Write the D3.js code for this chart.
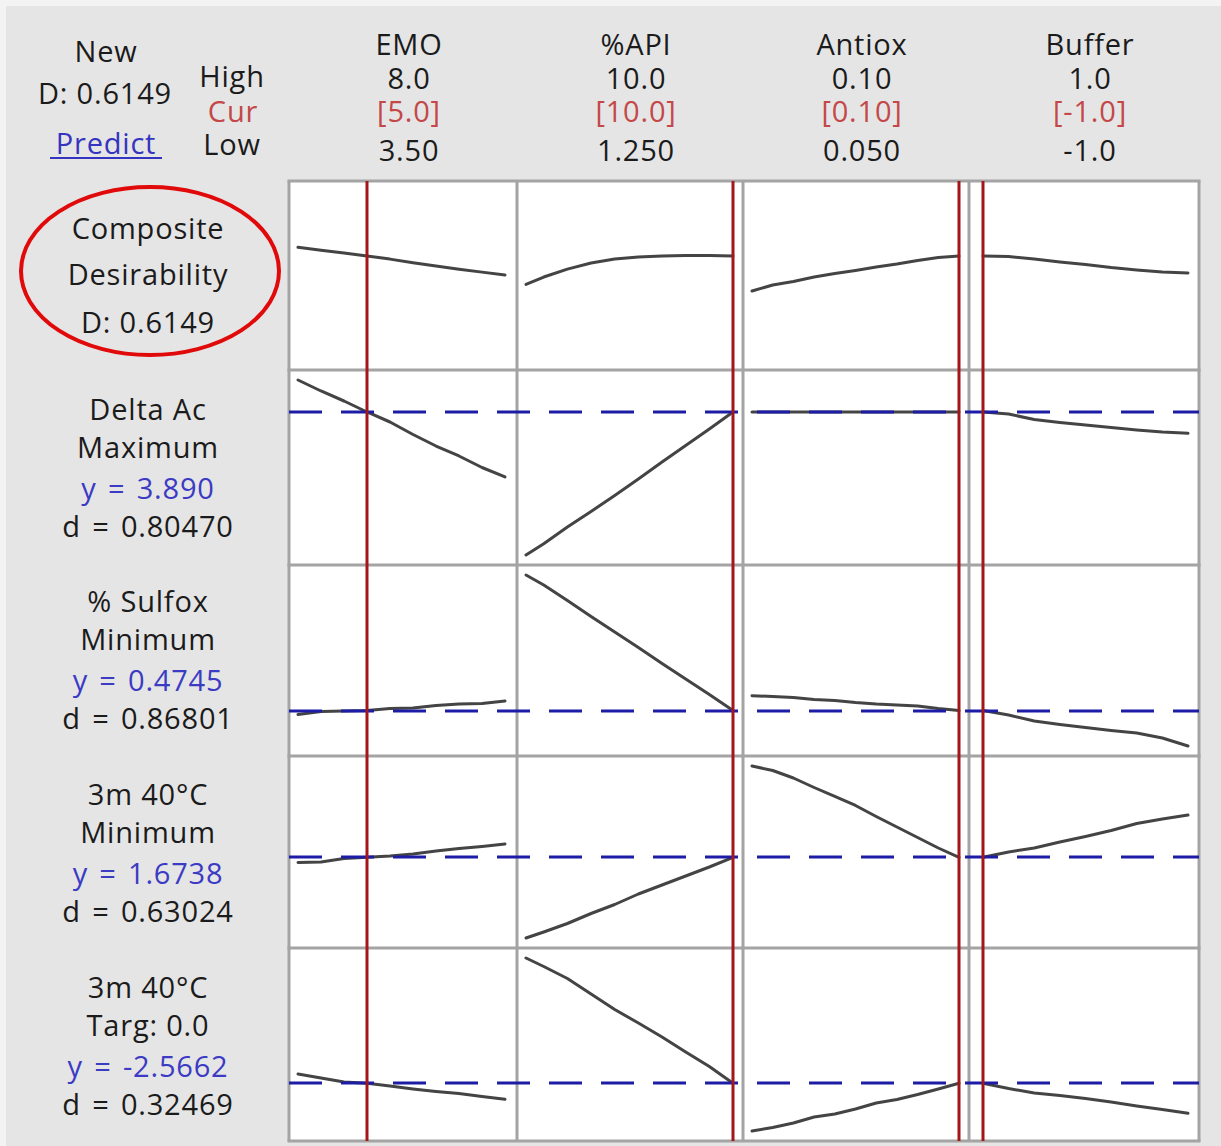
<!DOCTYPE html>
<html>
<head>
<meta charset="utf-8">
<script src="https://cdn.jsdelivr.net/npm/d3@7"></script>
<style>
  body { margin: 0; background: #f3f3f3; }
  svg { display: block; }
  text { font-family: "Open Sans", "Noto Sans", sans-serif; letter-spacing: 0.8px; }
</style>
</head>
<body>
<svg id="chart" width="1221" height="1146"></svg>
<script>
// ---- factors (columns) ----
const factorNames = ["EMO", "%API", "Antiox", "Buffer"];
const factorHighLabels = ["8.0", "10.0", "0.10", "1.0"];
const factorCurLabels = ["[5.0]", "[10.0]", "[0.10]", "[-1.0]"];
const factorLowLabels = ["3.50", "1.250", "0.050", "-1.0"];
const factorLow = [3.5, 1.25, 0.05, -1];
const factorHigh = [8.0, 10.0, 0.10, 1.0];
const factorCur = [5.0, 10.0, 0.10, -1.0];

// settings at which each response trace was evaluated
const emoGrid = [3.5, 4.0, 4.5, 5.0, 5.5, 6.0, 6.5, 7.0, 7.5, 8.0];
const apiGrid = [1.25, 2, 3, 4, 5, 6, 7, 8, 9, 10];
const antioxGrid = [0.05, 0.055, 0.06, 0.065, 0.07, 0.075, 0.08, 0.085, 0.09, 0.095, 0.10];
const bufferGrid = [-1, -0.75, -0.5, -0.25, 0, 0.25, 0.5, 0.75, 1];
const factorGrids = [emoGrid, apiGrid, antioxGrid, bufferGrid];

// ---- responses (rows) ----
const compositeD = 0.6149;
const compositeTraces = [
  [0.667, 0.650, 0.633, 0.6149, 0.597, 0.575, 0.556, 0.537, 0.520, 0.503],
  [0.447, 0.491, 0.538, 0.574, 0.598, 0.609, 0.615, 0.618, 0.618, 0.6149],
  [0.408, 0.444, 0.464, 0.491, 0.512, 0.530, 0.550, 0.568, 0.589, 0.607, 0.6149],
  [0.6149, 0.612, 0.598, 0.580, 0.565, 0.547, 0.533, 0.521, 0.515]
];
const deltaAcTraces = [
  [4.548, 4.322, 4.116, 3.890, 3.684, 3.427, 3.190, 2.985, 2.748, 2.553],
  [0.948, 1.180, 1.524, 1.843, 2.172, 2.511, 2.861, 3.201, 3.540, 3.890],
  [3.890, 3.890, 3.890, 3.890, 3.890, 3.890, 3.890, 3.890, 3.890, 3.890, 3.890],
  [3.890, 3.848, 3.735, 3.674, 3.622, 3.571, 3.519, 3.478, 3.451]
];
const sulfoxTraces = [
  [0.4548, 0.4696, 0.4720, 0.4745, 0.4843, 0.4868, 0.4991, 0.5065, 0.5089, 0.5212],
  [1.1406, 1.0914, 1.0152, 0.9366, 0.8604, 0.7842, 0.7055, 0.6293, 0.5532, 0.4745],
  [0.5473, 0.5433, 0.5384, 0.5286, 0.5237, 0.5138, 0.5065, 0.5015, 0.4966, 0.4843, 0.4745],
  [0.4745, 0.4524, 0.4229, 0.4057, 0.3909, 0.3762, 0.3639, 0.3393, 0.3000]
];
const m3MinTraces = [
  [1.6239, 1.6287, 1.6623, 1.6738, 1.6862, 1.7054, 1.7342, 1.7582, 1.7773, 1.8013],
  [0.9000, 0.9575, 1.0390, 1.1349, 1.2212, 1.3219, 1.4082, 1.4945, 1.5808, 1.6738],
  [2.5492, 2.5061, 2.4341, 2.3431, 2.2568, 2.1705, 2.0650, 1.9643, 1.8636, 1.7630, 1.6738],
  [1.6738, 1.7246, 1.7630, 1.8205, 1.8732, 1.9308, 1.9979, 2.0410, 2.0794]
];
const m3TargTraces = [
  [-2.4426, -2.4957, -2.5489, -2.5662, -2.6020, -2.6419, -2.6751, -2.7017, -2.7416, -2.7788],
  [-0.9011, -1.0141, -1.1736, -1.3795, -1.5855, -1.7649, -1.9509, -2.1502, -2.3429, -2.5662],
  [-3.2000, -3.1535, -3.0937, -3.0140, -2.9741, -2.9077, -2.8279, -2.7814, -2.7150, -2.6419, -2.5662],
  [-2.5662, -2.6353, -2.6951, -2.7283, -2.7681, -2.8146, -2.8678, -2.9143, -2.9648]
];
const rowTraces = [compositeTraces, deltaAcTraces, sulfoxTraces, m3MinTraces, m3TargTraces];

const responseNames = ["Delta Ac", "% Sulfox", "3m 40°C", "3m 40°C"];
const responseGoals = ["Maximum", "Minimum", "Minimum", "Targ: 0.0"];
const responseY = [3.890, 0.4745, 1.6738, -2.5662];
const responseYLabels = ["3.890", "0.4745", "1.6738", "-2.5662"];
const responseDLabels = ["0.80470", "0.86801", "0.63024", "0.32469"];

// ---- layout ----
const W = 1221, H = 1146;
const colEdges = [289, 517, 743, 969, 1199];
const rowEdges = [181, 370, 565, 756, 948, 1141];
const insetL = [9, 9, 9, 14], insetR = [12, 10, 10, 11];
const insetY = 10;
const FS = 29;

const svg = d3.select("#chart");
svg.append("rect").attr("x", 6).attr("y", 6).attr("width", W - 6).attr("height", H - 6)
  .attr("fill", "#e5e5e5");

const xScales = factorNames.map((_, c) => d3.scaleLinear()
  .domain([factorLow[c], factorHigh[c]])
  .range([colEdges[c] + insetL[c], colEdges[c + 1] - insetR[c]]));

const yScales = rowTraces.map((traces, r) => {
  const dom = r === 0 ? [0, 1] : d3.extent(traces.flat());
  return d3.scaleLinear().domain(dom).range([rowEdges[r + 1] - insetY, rowEdges[r] + insetY]);
});

// white plotting cells
svg.append("rect")
  .attr("x", colEdges[0]).attr("y", rowEdges[0])
  .attr("width", colEdges[4] - colEdges[0]).attr("height", rowEdges[5] - rowEdges[0])
  .attr("fill", "#ffffff");

// response traces
const plot = svg.append("g");
rowTraces.forEach((traces, r) => {
  traces.forEach((vals, c) => {
    const line = d3.line()
      .x((d, i) => xScales[c](factorGrids[c][i]))
      .y(d => yScales[r](d));
    plot.append("path")
      .attr("d", line(vals))
      .attr("fill", "none")
      .attr("stroke", "#444444")
      .attr("stroke-width", 3)
      .attr("stroke-linejoin", "round")
      .attr("stroke-linecap", "round");
  });
});

// grid
const grid = svg.append("g").attr("stroke", "#a4a4a4").attr("stroke-width", 3);
colEdges.forEach(x => grid.append("line")
  .attr("x1", x).attr("x2", x).attr("y1", rowEdges[0]).attr("y2", rowEdges[5]));
rowEdges.forEach(y => grid.append("line")
  .attr("x1", colEdges[0] - 1.5).attr("x2", colEdges[4] + 1.5).attr("y1", y).attr("y2", y));

// current response values (dashed)
responseY.forEach((v, i) => {
  const y = Math.round(yScales[i + 1](v));
  svg.append("line")
    .attr("x1", colEdges[0]).attr("x2", colEdges[4])
    .attr("y1", y).attr("y2", y)
    .attr("stroke", "#1c1ca6").attr("stroke-width", 3)
    .attr("stroke-dasharray", "33,19");
});

// current factor settings (red)
factorCur.forEach((v, c) => {
  const x = Math.round(xScales[c](v));
  svg.append("line")
    .attr("x1", x).attr("x2", x)
    .attr("y1", rowEdges[0]).attr("y2", rowEdges[5])
    .attr("stroke", "#a3161a").attr("stroke-width", 3);
});

// ---- text ----
function label(x, y, s, color, size) {
  return svg.append("text")
    .attr("x", x).attr("y", y)
    .attr("text-anchor", "middle")
    .attr("font-size", size || FS)
    .attr("fill", color || "#1b1b1b")
    .text(s);
}
const red = "#c44848", blue = "#3b3bc4";

label(106, 62, "New");
label(105, 104, "D: 0.6149");
label(106, 154, "Predict", "#3434c0");
svg.append("line").attr("x1", 50).attr("x2", 162).attr("y1", 158).attr("y2", 158)
  .attr("stroke", "#3434c0").attr("stroke-width", 2);
label(232, 87, "High");
label(233, 122, "Cur", red);
label(232, 155, "Low");

factorNames.forEach((name, c) => {
  const cx = (colEdges[c] + colEdges[c + 1]) / 2 + 6;
  label(cx, 55, name);
  label(cx, 89, factorHighLabels[c]);
  label(cx, 122, factorCurLabels[c], red);
  label(cx, 161, factorLowLabels[c]);
});

const lx = 148;
label(lx, 239, "Composite");
label(lx, 285, "Desirability");
label(lx, 333, "D: " + compositeD.toFixed(4));
svg.append("ellipse").attr("cx", 150).attr("cy", 271).attr("rx", 129).attr("ry", 84)
  .attr("fill", "none").attr("stroke", "#e10a0a").attr("stroke-width", 4);

const blockTops = [420, 612, 805, 998];
responseNames.forEach((name, i) => {
  const b = blockTops[i];
  label(lx, b, name);
  label(lx, b + 38, responseGoals[i]);
  label(lx, b + 79, "y = " + responseYLabels[i], blue).attr("word-spacing", 3);
  label(lx, b + 117, "d = " + responseDLabels[i]).attr("word-spacing", 3);
});
</script>
</body>
</html>
